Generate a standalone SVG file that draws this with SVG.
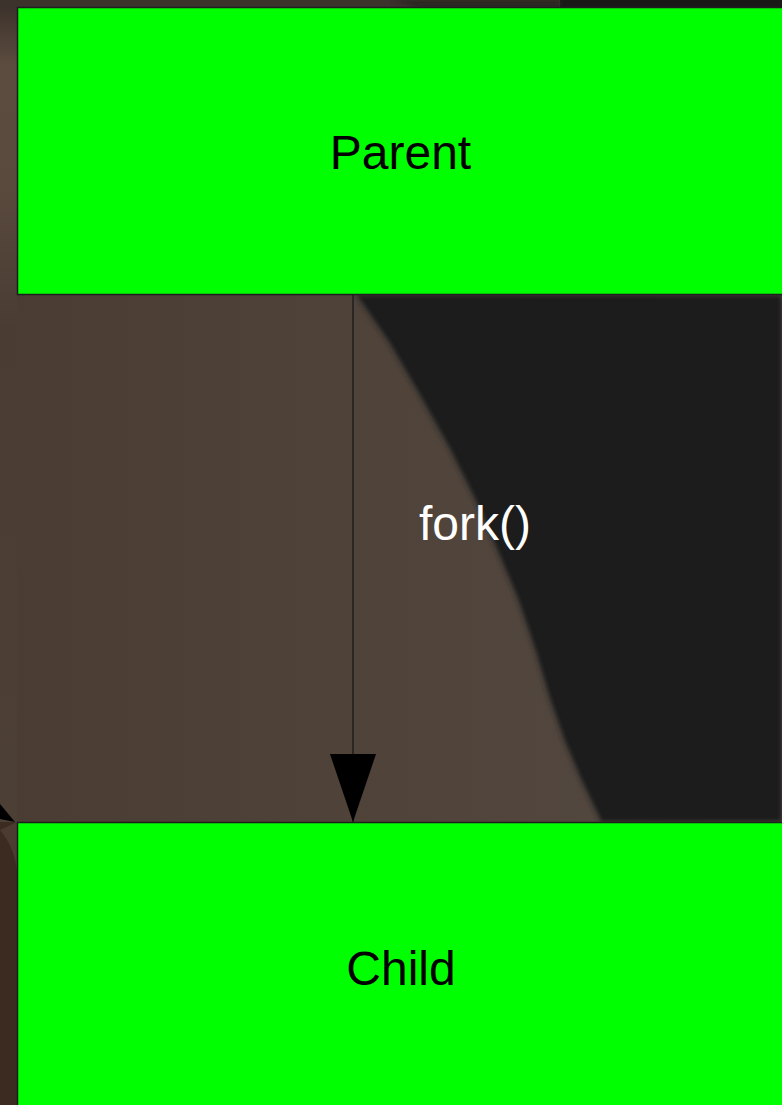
<svg xmlns="http://www.w3.org/2000/svg" width="782" height="1105" viewBox="0 0 782 1105">
  <style>
    .node { fill: #00ff00; stroke: #1e1e1e; stroke-width: 1.5; }
    .nlabel { font-family: "Liberation Sans", Arial, sans-serif; font-size: 48px; fill: #000000; text-anchor: middle; }
    .elabel { font-family: "Liberation Sans", Arial, sans-serif; font-size: 48px; fill: #ffffff; text-anchor: middle; }
    .edge { stroke: #2a2624; stroke-width: 2; fill: none; }
  </style>
  <defs>
    <linearGradient id="bgL" x1="0" y1="0" x2="1" y2="0">
      <stop offset="0" stop-color="#4a3c33"/>
      <stop offset="0.5" stop-color="#4f433a"/>
      <stop offset="1" stop-color="#554a42"/>
    </linearGradient>
    <linearGradient id="leftStrip" x1="0" y1="0" x2="0" y2="1">
      <stop offset="0" stop-color="#3a302a"/>
      <stop offset="0.08" stop-color="#5c4c40"/>
      <stop offset="0.22" stop-color="#5a4a3e"/>
      <stop offset="0.4" stop-color="#4a3c33"/>
      <stop offset="1" stop-color="#4c3f36"/>
    </linearGradient>
    <filter id="soft" x="-0.1" y="-0.1" width="1.2" height="1.2">
      <feGaussianBlur stdDeviation="2"/>
    </filter>
    <marker id="arrow" markerUnits="userSpaceOnUse" markerWidth="68" markerHeight="46" refX="68" refY="23" orient="auto">
      <path d="M0,0 L68,23 L0,46 Z" fill="#000000"/>
    </marker>
  </defs>

  <g id="background">
    <rect x="0" y="0" width="782" height="1105" fill="url(#bgL)"/>
    <rect x="0" y="0" width="17" height="822" fill="url(#leftStrip)"/>
    <rect x="0" y="0" width="782" height="8" fill="#3d332d"/>
    <rect x="560" y="0" width="222" height="8" fill="#1b1918"/>
    <path d="M390,0 L560,0 L560,8 L420,8 Z" fill="#2a2522" filter="url(#soft)"/>
    <path d="M355,295 L388,343 L420,398 L449,450 L474,500 L496,550 L517,600 L534,650 L549,700 L563,740 L580,780 L600,822 L782,822 L782,295 Z" fill="#1d1b1a" filter="url(#soft)"/>
    <path d="M355,295 L388,343 L420,398 L449,450 L474,500 L496,550 L517,600 L534,650 L549,700 L563,740 L580,780 L600,822" fill="none" stroke="#5a524b" stroke-width="3" opacity="0.5" filter="url(#soft)"/>
    <rect x="0" y="822" width="17" height="283" fill="#3c2b20"/>
    <path d="M0,830 C8,840 14,850 17,870 L17,822 Z" fill="#4c3b30"/>
    <polygon points="0,804 15,822 0,819" fill="#000000"/>
  </g>

  <g id="connectors">
    <line class="edge" x1="353" y1="295" x2="353" y2="822" marker-end="url(#arrow)"/>
    <text class="elabel" x="475" y="540">fork()</text>
  </g>

  <g id="parent">
    <rect class="node" x="17.5" y="7.5" width="780" height="287"/>
    <text class="nlabel" x="400.5" y="169">Parent</text>
  </g>

  <g id="child">
    <rect class="node" x="17.5" y="822.5" width="780" height="300"/>
    <text class="nlabel" x="401" y="985">Child</text>
  </g>
</svg>
